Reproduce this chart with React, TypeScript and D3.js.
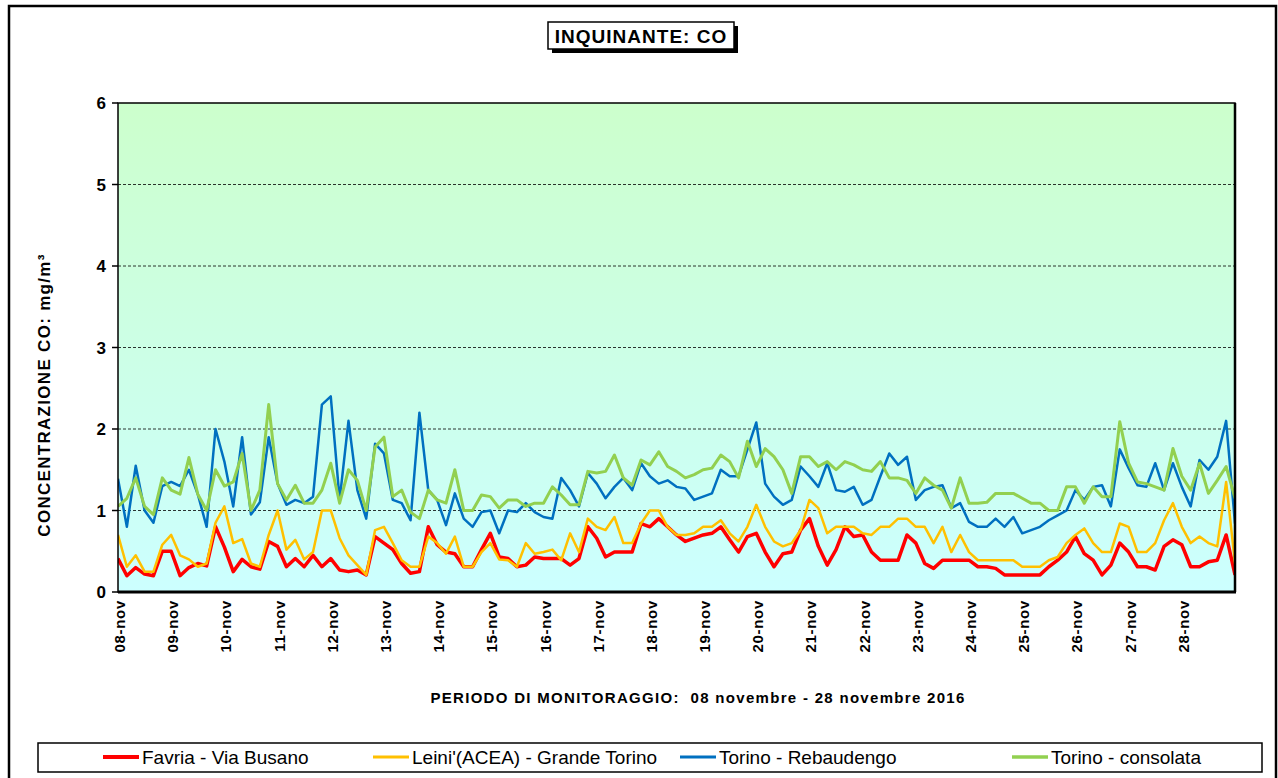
import React from 'react';
import * as d3 from 'd3';

// day labels on the x axis (one per day, at midnight)
const dayLabels = [
  '08-nov', '09-nov', '10-nov', '11-nov', '12-nov', '13-nov', '14-nov',
  '15-nov', '16-nov', '17-nov', '18-nov', '19-nov', '20-nov', '21-nov',
  '22-nov', '23-nov', '24-nov', '25-nov', '26-nov', '27-nov', '28-nov',
];
const yTicks = [0, 1, 2, 3, 4, 5, 6];

// CO concentration (mg/m3), one value every 4 hours from 08-nov 00:00
const favria = [
  0.41, 0.2, 0.3, 0.22, 0.2, 0.5, 0.5, 0.2, 0.3, 0.35, 0.32, 0.8, 0.55, 0.25, 0.4, 0.31, 0.28,
  0.62, 0.56, 0.31, 0.41, 0.31, 0.45, 0.31, 0.41, 0.27, 0.25, 0.27, 0.21, 0.68, 0.6, 0.52,
  0.35, 0.23, 0.25, 0.8, 0.58, 0.49, 0.47, 0.31, 0.31, 0.52, 0.72, 0.43, 0.41, 0.31, 0.33, 0.43,
  0.41, 0.41, 0.41, 0.33, 0.41, 0.8, 0.66, 0.43, 0.49, 0.49, 0.49, 0.84, 0.8, 0.9, 0.8, 0.7,
  0.62, 0.66, 0.7, 0.72, 0.8, 0.64, 0.49, 0.68, 0.72, 0.49, 0.31, 0.47, 0.49, 0.76, 0.9, 0.56,
  0.33, 0.52, 0.8, 0.68, 0.7, 0.49, 0.39, 0.39, 0.39, 0.7, 0.6, 0.35, 0.29, 0.39, 0.39, 0.39,
  0.39, 0.31, 0.31, 0.29, 0.21, 0.21, 0.21, 0.21, 0.21, 0.31, 0.39, 0.49, 0.68, 0.47, 0.39,
  0.21, 0.33, 0.6, 0.49, 0.31, 0.31, 0.27, 0.56, 0.64, 0.58, 0.31, 0.31, 0.37, 0.39, 0.7, 0.21,
];
const leini = [
  0.7, 0.31, 0.45, 0.25, 0.25, 0.58, 0.7, 0.45, 0.4, 0.31, 0.35, 0.85, 1.05, 0.6, 0.65, 0.35, 0.31,
  0.7, 1.0, 0.52, 0.64, 0.4, 0.49, 1.0, 1.0, 0.66, 0.45, 0.33, 0.21, 0.76, 0.8, 0.6,
  0.39, 0.31, 0.31, 0.68, 0.6, 0.47, 0.68, 0.31, 0.31, 0.49, 0.6, 0.4, 0.39, 0.31, 0.6, 0.47,
  0.49, 0.52, 0.39, 0.72, 0.49, 0.9, 0.8, 0.76, 0.92, 0.6, 0.6, 0.84, 1.0, 1.0, 0.8, 0.7,
  0.7, 0.72, 0.8, 0.8, 0.88, 0.72, 0.62, 0.8, 1.07, 0.8, 0.62, 0.56, 0.6, 0.76, 1.13, 1.03,
  0.72, 0.8, 0.8, 0.8, 0.72, 0.7, 0.8, 0.8, 0.9, 0.9, 0.8, 0.8, 0.6, 0.8, 0.49, 0.7,
  0.49, 0.39, 0.39, 0.39, 0.39, 0.39, 0.31, 0.31, 0.31, 0.39, 0.43, 0.6, 0.7, 0.78, 0.6,
  0.49, 0.49, 0.84, 0.8, 0.49, 0.49, 0.6, 0.88, 1.09, 0.8, 0.6, 0.68, 0.6, 0.56, 1.35, 0.35,
];
const rebaudengo = [
  1.39, 0.8, 1.55, 1.0, 0.85, 1.3, 1.35, 1.3, 1.5, 1.2, 0.8, 2.0, 1.6, 1.05, 1.9, 0.95, 1.1,
  1.9, 1.33, 1.07, 1.13, 1.09, 1.17, 2.3, 2.4, 1.13, 2.1, 1.25, 0.9, 1.82, 1.7, 1.13,
  1.09, 0.88, 2.2, 1.25, 1.13, 0.82, 1.21, 0.9, 0.8, 0.98, 1.0, 0.72, 1.0, 0.98, 1.09, 0.98,
  0.92, 0.9, 1.4, 1.25, 1.05, 1.46, 1.33, 1.15, 1.29, 1.4, 1.25, 1.58, 1.42, 1.33, 1.37, 1.29,
  1.27, 1.13, 1.17, 1.21, 1.5, 1.42, 1.42, 1.75, 2.08, 1.33, 1.17, 1.07, 1.13, 1.54, 1.42, 1.29,
  1.58, 1.25, 1.23, 1.29, 1.07, 1.13, 1.42, 1.7, 1.56, 1.66, 1.13, 1.25, 1.29, 1.31, 1.03, 1.09,
  0.86, 0.8, 0.8, 0.9, 0.8, 0.92, 0.72, 0.76, 0.8, 0.88, 0.94, 1.0, 1.25, 1.13, 1.29,
  1.31, 1.05, 1.75, 1.52, 1.31, 1.29, 1.58, 1.25, 1.58, 1.29, 1.05, 1.62, 1.5, 1.66, 2.1, 0.84,
];
const consolata = [
  1.05, 1.15, 1.4, 1.05, 0.95, 1.4, 1.25, 1.2, 1.65, 1.2, 1.0, 1.5, 1.3, 1.35, 1.7, 1.0, 1.25,
  2.3, 1.33, 1.13, 1.31, 1.09, 1.09, 1.25, 1.58, 1.09, 1.5, 1.37, 1.0, 1.78, 1.9, 1.17,
  1.25, 0.98, 0.9, 1.25, 1.13, 1.09, 1.5, 1.0, 1.0, 1.19, 1.17, 1.03, 1.13, 1.13, 1.05, 1.09,
  1.09, 1.29, 1.19, 1.07, 1.07, 1.48, 1.46, 1.48, 1.68, 1.4, 1.31, 1.62, 1.56, 1.72, 1.54, 1.48,
  1.4, 1.44, 1.5, 1.52, 1.68, 1.6, 1.4, 1.85, 1.54, 1.76, 1.66, 1.5, 1.21, 1.66, 1.66, 1.54,
  1.6, 1.5, 1.6, 1.56, 1.5, 1.48, 1.6, 1.4, 1.4, 1.37, 1.21, 1.4, 1.31, 1.25, 1.03, 1.4,
  1.09, 1.09, 1.1, 1.21, 1.21, 1.21, 1.15, 1.09, 1.09, 1.0, 1.0, 1.29, 1.29, 1.09, 1.29,
  1.17, 1.17, 2.09, 1.58, 1.35, 1.33, 1.29, 1.25, 1.76, 1.42, 1.25, 1.58, 1.21, 1.37, 1.54, 1.15,
];

const seriesNames = ['Favria - Via Busano', "Leini'(ACEA) - Grande Torino", 'Torino - Rebaudengo', 'Torino - consolata'];

const series = [
  { name: seriesNames[0], values: favria, color: '#ff0000', width: 3.5, legendX: 103 },
  { name: seriesNames[1], values: leini, color: '#ffc000', width: 2.5, legendX: 373 },
  { name: seriesNames[2], values: rebaudengo, color: '#0070c0', width: 2.5, legendX: 680 },
  { name: seriesNames[3], values: consolata, color: '#92d050', width: 3, legendX: 1012 },
];

const FONT = "Arial, 'Liberation Sans', Helvetica, sans-serif";
const plot = { left: 118, right: 1235, top: 103, bottom: 592 };
const STEPS_PER_DAY = 6;

export default function App() {
  const x = d3.scaleLinear().domain([0, dayLabels.length]).range([plot.left, plot.right]);
  const y = d3.scaleLinear().domain([0, 6]).range([plot.bottom, plot.top]);
  const line = d3.line<number>()
    .x((_, i) => x(i / STEPS_PER_DAY))
    .y(d => y(d));

  return (
    <div style={{ position: 'absolute', left: 0, top: 0 }}>
      <svg width={1278} height={778} style={{ display: 'block', background: '#fff' }}>
        <defs>
          <linearGradient id="bg" x1="0" y1="0" x2="0" y2="1">
            <stop offset="0%" stopColor="#ccffcc" />
            <stop offset="100%" stopColor="#ccffff" />
          </linearGradient>
          <clipPath id="plotClip">
            <rect x={plot.left} y={plot.top} width={plot.right - plot.left} height={plot.bottom - plot.top} />
          </clipPath>
        </defs>

        {/* outer frame */}
        <rect x={9} y={6} width={1267} height={800} fill="none" stroke="#000" strokeWidth={2.5} />

        {/* title box */}
        <rect x={552} y={26} width={186} height={27} fill="#000" />
        <rect x={548} y={22} width={186} height={27} fill="#fff" stroke="#000" strokeWidth={1.5} />
        <text x={641} y={43} textAnchor="middle" fontFamily={FONT} fontWeight="bold" fontSize={19} letterSpacing={1}>
          INQUINANTE: CO
        </text>

        {/* plot background */}
        <rect x={plot.left} y={plot.top} width={plot.right - plot.left} height={plot.bottom - plot.top} fill="url(#bg)" />

        {/* grid lines */}
        {yTicks.filter(t => t > 0 && t < 6).map(t => (
          <line key={t} x1={plot.left} x2={plot.right} y1={y(t)} y2={y(t)} stroke="#000" strokeWidth={0.8} strokeDasharray="3,2" />
        ))}

        {/* series */}
        <g clipPath="url(#plotClip)">
          {series.map(s => (
            <path key={s.name} d={line(s.values) || ''} fill="none" stroke={s.color} strokeWidth={s.width} strokeLinejoin="round" />
          ))}
        </g>

        {/* plot border */}
        <rect x={plot.left} y={plot.top} width={plot.right - plot.left} height={plot.bottom - plot.top} fill="none" stroke="#000" strokeWidth={1.5} />
        <line x1={plot.left} x2={plot.right + 1} y1={plot.bottom} y2={plot.bottom} stroke="#000" strokeWidth={3} />
        <line x1={plot.right} x2={plot.right} y1={plot.top} y2={plot.bottom} stroke="#000" strokeWidth={2.5} />

        {/* y axis */}
        {yTicks.map(t => (
          <g key={t}>
            <line x1={plot.left - 6} x2={plot.left} y1={y(t)} y2={y(t)} stroke="#000" strokeWidth={1.5} />
            <text x={106} y={y(t) + 6} textAnchor="end" fontFamily={FONT} fontWeight="bold" fontSize={17}>{t}</text>
          </g>
        ))}
        <text transform={`translate(50, ${395}) rotate(-90)`} textAnchor="middle" fontFamily={FONT} fontWeight="bold" fontSize={17} letterSpacing={1.3}>
          CONCENTRAZIONE CO: mg/m³
        </text>

        {/* x axis labels */}
        {dayLabels.map((d, i) => (
          <text key={d} transform={`translate(${x(i) + 7}, 600) rotate(-90)`} textAnchor="end" fontFamily={FONT} fontWeight="bold" fontSize={15} letterSpacing={0.7}>
            {d}
          </text>
        ))}
        <text x={698} y={703} textAnchor="middle" fontFamily={FONT} fontWeight="bold" fontSize={15} letterSpacing={1.3} xmlSpace="preserve">
          PERIODO DI MONITORAGGIO:  08 novembre - 28 novembre 2016
        </text>

        {/* legend */}
        <rect x={38} y={743} width={1224} height={29} fill="#fff" stroke="#000" strokeWidth={1.5} />
        {series.map(s => (
          <g key={s.name}>
            <line x1={s.legendX} x2={s.legendX + 36} y1={757} y2={757} stroke={s.color} strokeWidth={s.width + 0.5} />
            <text x={s.legendX + 39} y={764} fontFamily={FONT} fontSize={19}>{s.name}</text>
          </g>
        ))}
      </svg>
    </div>
  );
}
